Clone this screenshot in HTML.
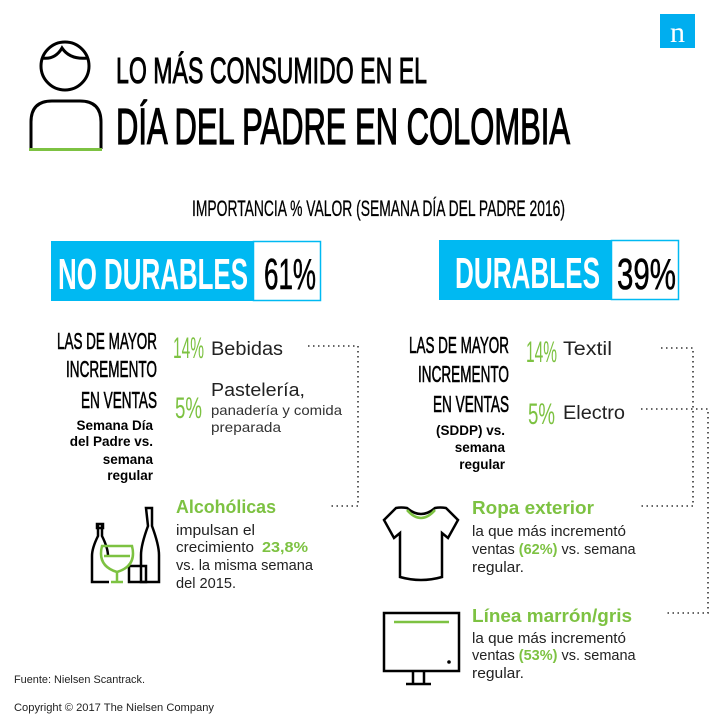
<!DOCTYPE html>
<html><head><meta charset="utf-8"><style>html,body{margin:0;padding:0;background:#fff}svg{display:block}</style></head>
<body>
<svg width="720" height="720" viewBox="0 0 720 720" xmlns="http://www.w3.org/2000/svg" font-family="Liberation Sans, sans-serif">
<rect width="720" height="720" fill="#fff"/>
<!-- logo -->
<rect x="660" y="14" width="35" height="34" fill="#00aeef"/>
<text x="677.5" y="42" font-family="Liberation Serif, serif" font-size="30" fill="#fff" text-anchor="middle">n</text>
<!-- head icon -->
<ellipse cx="65" cy="66" rx="24" ry="24" fill="none" stroke="#000" stroke-width="3"/>
<path d="M42 58 Q55 60 62 48 Q70 60 88 58" fill="none" stroke="#000" stroke-width="3"/>
<path d="M31 149 V122 Q31 101 52 101 H80 Q101 101 101 122 V149" fill="none" stroke="#000" stroke-width="3"/>
<line x1="29" y1="149.5" x2="102" y2="149.5" stroke="#7dc242" stroke-width="3"/>
<!-- titles -->
<g fill="#000" stroke="#000">
<text x="116" y="83" font-size="36" stroke-width="0.9" textLength="311" lengthAdjust="spacingAndGlyphs">LO MÁS CONSUMIDO EN EL</text>
<text x="116" y="144" font-size="51" stroke-width="1.3" textLength="454" lengthAdjust="spacingAndGlyphs">DÍA DEL PADRE EN COLOMBIA</text>
<text x="192" y="216" font-size="22" stroke-width="0.3" textLength="373" lengthAdjust="spacingAndGlyphs">IMPORTANCIA % VALOR (SEMANA DÍA DEL PADRE 2016)</text>
</g>
<!-- boxes -->
<rect x="51" y="241" width="202" height="60" fill="#00b9f2"/>
<rect x="253.5" y="241.5" width="67" height="59" fill="#fff" stroke="#00b9f2" stroke-width="1.5"/>
<text x="58" y="289" font-size="44" font-weight="bold" fill="#fff" textLength="190" lengthAdjust="spacingAndGlyphs">NO DURABLES</text>
<text x="264" y="289" font-size="44" fill="#000" stroke="#000" stroke-width="0.6" textLength="52" lengthAdjust="spacingAndGlyphs">61%</text>
<rect x="439" y="240" width="172" height="60" fill="#00b9f2"/>
<rect x="611.5" y="240.5" width="67" height="59" fill="#fff" stroke="#00b9f2" stroke-width="1.5"/>
<text x="455" y="288" font-size="44" font-weight="bold" fill="#fff" textLength="145" lengthAdjust="spacingAndGlyphs">DURABLES</text>
<text x="617" y="289" font-size="44" fill="#000" stroke="#000" stroke-width="0.6" textLength="59" lengthAdjust="spacingAndGlyphs">39%</text>
<!-- left block -->
<g fill="#000" stroke="#000" stroke-width="0.6" font-size="23" text-anchor="end">
<text x="157" y="349" textLength="100" lengthAdjust="spacingAndGlyphs">LAS DE MAYOR</text>
<text x="157" y="377" textLength="91" lengthAdjust="spacingAndGlyphs">INCREMENTO</text>
<text x="157" y="408" textLength="76" lengthAdjust="spacingAndGlyphs">EN VENTAS</text>
</g>
<g fill="#000" font-size="13.5" font-weight="bold" text-anchor="end">
<text x="153" y="430">Semana Día</text>
<text x="153" y="446">del Padre vs.</text>
<text x="153" y="464">semana</text>
<text x="153" y="480">regular</text>
</g>
<text x="173" y="358" font-size="30" fill="#7dc242" textLength="31" lengthAdjust="spacingAndGlyphs">14%</text>
<text x="211" y="355" font-size="19" fill="#222" textLength="72" lengthAdjust="spacingAndGlyphs">Bebidas</text>
<text x="175" y="418" font-size="30" fill="#7dc242" textLength="27" lengthAdjust="spacingAndGlyphs">5%</text>
<text x="211" y="396" font-size="18" fill="#222" textLength="94" lengthAdjust="spacingAndGlyphs">Pastelería,</text>
<text x="211" y="415" font-size="14" fill="#333" textLength="131" lengthAdjust="spacingAndGlyphs">panadería y comida</text>
<text x="211" y="432" font-size="14" fill="#333" textLength="70" lengthAdjust="spacingAndGlyphs">preparada</text>
<g fill="none" stroke="#333" stroke-width="1.6" stroke-dasharray="1.5 3.5">
<path d="M308 346 H358 V506 H330"/>
<path d="M661 348 H693 V506 H640"/>
<path d="M641 409 H708 V613 H665"/>
</g>
<text x="176" y="513" font-size="18" font-weight="bold" fill="#7dc242" textLength="100" lengthAdjust="spacingAndGlyphs">Alcohólicas</text>
<g font-size="14.5" fill="#222">
<text x="176" y="535" textLength="79" lengthAdjust="spacingAndGlyphs">impulsan el</text>
<text x="176" y="552" textLength="78" lengthAdjust="spacingAndGlyphs">crecimiento</text>
<text x="262" y="552" fill="#7dc242" font-weight="bold" textLength="46" lengthAdjust="spacingAndGlyphs">23,8%</text>
<text x="176" y="570" textLength="137" lengthAdjust="spacingAndGlyphs">vs. la misma semana</text>
<text x="176" y="588" textLength="60" lengthAdjust="spacingAndGlyphs">del 2015.</text>
</g>
<!-- bottles -->
<g fill="none" stroke="#000" stroke-width="2.5">
<path d="M98 524 V536 Q92 548 92 556 V582 H109"/>
<path d="M102 524 V536 Q108 548 108 556"/>
<rect x="97" y="524" width="6" height="4"/>
<path d="M146 508 H152 V526 Q159 545 159 555 V582 H141 V555 Q141 545 148 526 Z"/>
<path d="M129 566 H146 V582 H129 Z"/>
</g>
<g fill="none" stroke="#7dc242" stroke-width="2.5">
<path d="M102 546 H132 Q137 566 117 572 Q97 566 102 546 Z"/>
<path d="M117 572 V582 M111 582 H123 M104 556 H130"/>
</g>
<!-- right block -->
<g fill="#000" stroke="#000" stroke-width="0.6" font-size="23" text-anchor="end">
<text x="509" y="353" textLength="100" lengthAdjust="spacingAndGlyphs">LAS DE MAYOR</text>
<text x="509" y="382" textLength="91" lengthAdjust="spacingAndGlyphs">INCREMENTO</text>
<text x="509" y="412" textLength="76" lengthAdjust="spacingAndGlyphs">EN VENTAS</text>
</g>
<g fill="#000" font-size="13.5" font-weight="bold" text-anchor="end">
<text x="505" y="435">(SDDP) vs.</text>
<text x="505" y="452">semana</text>
<text x="505" y="469">regular</text>
</g>
<text x="526" y="362" font-size="30" fill="#7dc242" textLength="31" lengthAdjust="spacingAndGlyphs">14%</text>
<text x="563" y="355" font-size="19" fill="#222" textLength="49" lengthAdjust="spacingAndGlyphs">Textil</text>
<text x="528" y="424" font-size="30" fill="#7dc242" textLength="27" lengthAdjust="spacingAndGlyphs">5%</text>
<text x="563" y="419" font-size="19" fill="#222" textLength="62" lengthAdjust="spacingAndGlyphs">Electro</text>
<!-- tshirt -->
<path d="M396 508 L384 520 L394 538 L400 533 V577 Q421 583 442 577 V533 L448 538 L458 520 L446 508 Q440 507 435 508 Q421 520 407 508 Q401 507 396 508 Z" fill="none" stroke="#000" stroke-width="2.5"/>
<path d="M407 510 Q421 526 435 510" fill="none" stroke="#7dc242" stroke-width="2.5"/>
<text x="472" y="514" font-size="18" font-weight="bold" fill="#7dc242" textLength="122" lengthAdjust="spacingAndGlyphs">Ropa exterior</text>
<g font-size="14.5" fill="#222">
<text x="472" y="536" textLength="154" lengthAdjust="spacingAndGlyphs">la que más incrementó</text>
<text x="472" y="554"><tspan>ventas </tspan><tspan fill="#7dc242" font-weight="bold">(62%)</tspan><tspan> vs. semana</tspan></text>
<text x="472" y="572" textLength="52" lengthAdjust="spacingAndGlyphs">regular.</text>
</g>
<!-- monitor -->
<rect x="384" y="613" width="75" height="58" fill="none" stroke="#000" stroke-width="2.5"/>
<line x1="394" y1="622" x2="449" y2="622" stroke="#7dc242" stroke-width="2.5"/>
<circle cx="449" cy="662" r="1.8" fill="#000"/>
<path d="M413 672 V684 M424 672 V684 M406 684 H431" stroke="#000" stroke-width="2.5"/>
<text x="472" y="622" font-size="18" font-weight="bold" fill="#7dc242" textLength="160" lengthAdjust="spacingAndGlyphs">Línea marrón/gris</text>
<g font-size="14.5" fill="#222">
<text x="472" y="643" textLength="154" lengthAdjust="spacingAndGlyphs">la que más incrementó</text>
<text x="472" y="660"><tspan>ventas </tspan><tspan fill="#7dc242" font-weight="bold">(53%)</tspan><tspan> vs. semana</tspan></text>
<text x="472" y="678" textLength="52" lengthAdjust="spacingAndGlyphs">regular.</text>
</g>
<text x="14" y="683" font-size="11" fill="#222" textLength="131" lengthAdjust="spacingAndGlyphs">Fuente: Nielsen Scantrack.</text>
<text x="14" y="711" font-size="11" fill="#222" textLength="200" lengthAdjust="spacingAndGlyphs">Copyright © 2017 The Nielsen Company</text>
</svg>
</body></html>
